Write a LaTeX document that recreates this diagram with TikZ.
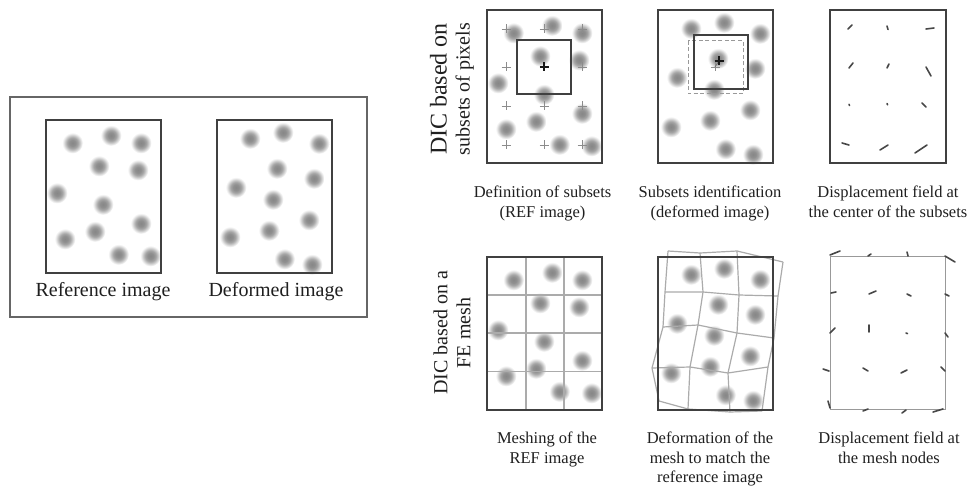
\documentclass[tikz,border=0pt]{standalone}
\usepackage{fontspec}
\setmainfont{Liberation Serif}
\pgfdeclareradialshading{blurdot}{\pgfpoint{0bp}{0bp}}{color(0bp)=(black!47); color(7bp)=(black!44); color(13bp)=(black!35); color(18bp)=(black!20); color(22bp)=(black!7); color(25bp)=(white); color(50bp)=(white)}
\newcommand\refdots{26.5/23, 65/15.5, 95/23, 53/46, 92/50, 11/73, 57/84.5, 95/103.5, 49/111.5, 19/119, 72.5/134.5, 104.5/136}
\newcommand\defdots{33/18.5, 66/12.5, 102/23.5, 60/48.5, 97/58.5, 19/67.5, 56/79.5, 92/100, 52/110.5, 13/117, 67.5/139, 95/144.5}
\newcommand\blobs[1]{\foreach \bx/\by in #1 {\shade[shading=blurdot] (\bx,\by) circle[radius=10.5];}}
\newcommand\pmark[3]{\draw[#3] (#1,#2) ++(-4.5,0) -- ++(9,0) (#1,#2) ++(0,-4.5) -- ++(0,9);}
\begin{document}
\begin{tikzpicture}[x=1pt,y=-1pt,
  frame/.style={draw=black!75, line width=1.3pt},
  outerframe/.style={draw=black!60, line width=1.3pt},
  mesh/.style={draw=black!33, line width=1.2pt},
  vec/.style={draw=black!72, line width=1.6pt, line cap=round},
  gplus/.style={draw=black!45, line width=0.9pt},
  bplus/.style={draw=black!90, line width=1.3pt},
  captxt/.style={align=center, anchor=north, inner sep=0pt, text=black!88, font=\fontsize{16.5}{19.5}\selectfont},
  bigcap/.style={align=center, anchor=north, inner sep=0pt, text=black!88, font=\fontsize{20}{24}\selectfont},
  vlab/.style={rotate=90, align=center, inner sep=0pt, text=black!88, font=\fontsize{20}{23}\selectfont}]
\useasboundingbox (0,0) rectangle (968,486);
\fill[white] (0,0) rectangle (968,486);

% ---------------- left panel ----------------
\begin{scope}[shift={(46,120)}] \blobs{\refdots} \end{scope}
\begin{scope}[shift={(217,120)}] \blobs{\defdots} \end{scope}
\draw[outerframe] (10,97) rectangle (367,317);
\draw[frame] (46,120) rectangle (161,273);
\draw[frame] (217,120) rectangle (332,273);
\node[bigcap] (refcap) at (103,282) {Reference image};
\node[bigcap] (defcap) at (276,282) {Deformed image};

% ---------------- row labels ----------------
\node[vlab] (vtop) at (452,89) {{\fontsize{24}{24}\selectfont DIC based on}\\subsets of pixels};
\node[vlab] (vbot) at (452,333) {DIC based on a\\FE mesh};

% top 1
\begin{scope}[shift={(487,10)}]
  \blobs{\refdots}
  \foreach \gx in {19,57,95} {\foreach \gy in {19,57,96,135} {\pmark{\gx}{\gy}{gplus}}}
  \pmark{57}{57}{bplus}
\end{scope}
\draw[frame] (517,40) rectangle (571,94);
\draw[frame] (487,10) rectangle (602,163);
\node[captxt] (c1) at (542.5,186) {Definition of subsets\\(REF image)};

% top 2
\begin{scope}[shift={(658,10)}] \blobs{\defdots} \end{scope}
\draw[draw=black!40, line width=1pt, dash pattern=on 4pt off 2.5pt] (688,41) rectangle (743,94);
\draw[frame] (694,35) rectangle (748,89);
\pmark{715}{67}{gplus}
\draw[black!55, line width=0.8pt] (715,67) -- (719,61);
\pmark{719}{61}{bplus}
\draw[frame] (658,10) rectangle (773,163);
\node[captxt] (c2) at (710,186) {Subsets identification\\(deformed image)};

% top 3
\draw[frame] (830,10) rectangle (946,163);
\foreach \ax/\ay/\bx/\by in {848/29/852/25, 887/26/888/29.5, 926/29/934/28,
  849/68/853/63, 887/68/889/64, 926/67/931/76,
  849/104.3/849.5/105.5, 887/103.5/887.6/104.8, 922/103/926/107,
  842/143/849/145, 880/150/888/145, 915/153/927/145}
  {\draw[vec] (\ax,\ay) -- (\bx,\by);}
\node[captxt] (c3) at (888,186) {Displacement field at\\the center of the subsets};

% ---------------- bottom row ----------------
% bottom 1
\begin{scope}[shift={(487,257)}] \blobs{\refdots} \end{scope}
\draw[mesh] (526,257) -- (526,410) (564,257) -- (564,410)
            (487,295) -- (602,295) (487,333) -- (602,333) (487,371.5) -- (602,371.5);
\draw[frame] (487,257) rectangle (602,410);
\node[captxt] (c4) at (547,432) {Meshing of the\\REF image};

% bottom 2
\begin{scope}[shift={(658,256)}] \blobs{\defdots} \end{scope}
\coordinate (n00) at (668,251); \coordinate (n01) at (700,253); \coordinate (n02) at (737,251); \coordinate (n03) at (783,262);
\coordinate (n10) at (665,292); \coordinate (n11) at (703,292); \coordinate (n12) at (739,295); \coordinate (n13) at (778,296);
\coordinate (n20) at (663,327); \coordinate (n21) at (698,325); \coordinate (n22) at (737,333); \coordinate (n23) at (774,338);
\coordinate (n30) at (652,368); \coordinate (n31) at (690,367); \coordinate (n32) at (728,373); \coordinate (n33) at (768,367);
\coordinate (n40) at (659,401); \coordinate (n41) at (688,409); \coordinate (n42) at (730,412); \coordinate (n43) at (762,411);
\foreach \r in {0,...,4} {\draw[mesh] (n\r0) -- (n\r1) -- (n\r2) -- (n\r3);}
\foreach \c in {0,...,3} {\draw[mesh] (n0\c) -- (n1\c) -- (n2\c) -- (n3\c) -- (n4\c);}
\draw[frame] (658,257) rectangle (773,410);
\node[captxt] (c5) at (710,432) {Deformation of the\\mesh to match the\\reference image};

% bottom 3
\draw[draw=black!40, line width=1pt] (830,256) rectangle (945,409);
\foreach \ax/\ay/\bx/\by in {830/255/840/251, 868/256/871/254, 907/252/908/256, 945/256/955/262,
  831/293/836/292, 869/294/876/291, 907/294/911/296, 945/294/949/296,
  830/333/835/328, 869/332/869/325, 906/333/907.5/333.6, 945/333/948/337,
  823/369/829/371, 863/368/868/371, 901/373/907/370, 941/367/945/371,
  828/401/830/408, 863/411/868/409, 902/413/906/410, 933/412/943/409}
  {\draw[vec] (\ax,\ay) -- (\bx,\by);}
\node[captxt] (c6) at (889,432) {Displacement field at\\the mesh nodes};
\end{tikzpicture}
\end{document}
